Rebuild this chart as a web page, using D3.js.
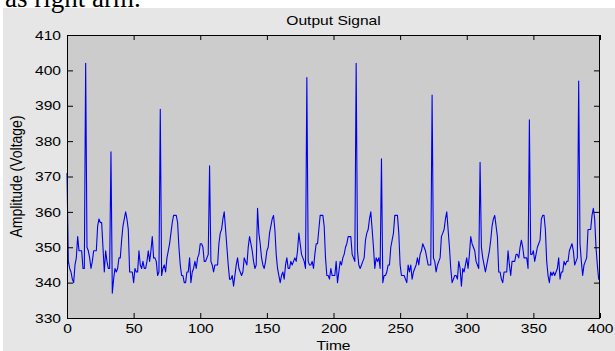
<!DOCTYPE html>
<html>
<head>
<meta charset="utf-8">
<script src="https://cdn.jsdelivr.net/npm/d3@7"></script>
<style>
  html, body { margin: 0; padding: 0; background: #fff; overflow: hidden; }
  svg { display: block; }
</style>
</head>
<body>
<div id="chart"></div>
<script>
(function () {
  'use strict';

  // Output signal samples, t = 0..400 (one value per time step)
  var amplitude = [
    371,346,344,343,341,340,345,347,353,349,349,349,344,344,402,350,349,347,344,346,
    349,349,349,356,358,357,357,350,343,349,346,344,344,377,337,341,344,343,344,347,
    347,352,356,358,360,358,355,343,343,343,340,344,343,343,349,345,344,346,344,344,
    346,349,346,349,353,347,347,346,342,343,389,342,344,345,343,347,349,351,354,357,
    359,359,359,357,350,345,342,342,340,340,343,343,347,340,343,344,346,344,347,348,
    351,351,350,346,346,347,348,373,346,345,343,345,345,345,351,354,355,358,360,355,
    350,345,341,341,342,339,342,345,347,344,343,342,343,347,346,345,350,353,351,349,
    346,344,345,361,354,351,347,345,344,346,349,350,354,356,358,359,355,348,344,342,
    340,342,343,341,345,347,344,344,346,345,346,347,346,349,354,351,348,347,346,344,
    398,346,345,345,346,344,348,351,351,355,359,359,359,356,347,342,342,341,344,342,
    342,342,346,340,343,346,345,347,348,350,351,353,353,353,348,347,346,402,349,345,
    344,345,346,347,352,354,355,358,360,355,350,344,347,346,347,344,375,340,342,342,
    343,345,345,350,352,354,359,359,359,354,345,342,342,342,341,340,345,343,345,341,
    343,344,345,347,345,348,349,351,350,349,347,345,345,345,393,347,346,343,345,346,
    347,353,354,355,358,360,355,350,344,340,341,342,342,341,346,344,339,344,343,345,
    347,344,348,353,351,350,349,346,345,344,374,350,347,345,343,345,347,349,352,356,
    358,359,356,353,343,343,341,340,343,343,343,349,345,342,346,346,346,348,348,347,
    350,352,350,347,347,347,344,386,348,348,349,346,348,350,351,352,358,359,359,355,
    346,342,340,343,342,343,342,343,344,347,341,343,343,346,345,346,346,349,350,351,
    349,345,346,347,397,351,346,342,345,346,347,355,355,355,359,361,358,350,345,341,
    341
  ];

  var xTicks = [0, 50, 100, 150, 200, 250, 300, 350, 400];
  var yTicks = [330, 340, 350, 360, 370, 380, 390, 400, 410];

  var titleText = 'Output Signal';
  var xLabelText = 'Time';
  var yLabelText = 'Amplitude (Voltage)';
  var captionText = 'as right arm.';

  var width = 615;
  var height = 351;
  var margin = { top: 35, right: 15, bottom: 33, left: 67 };
  var plotWidth = width - margin.left - margin.right;
  var plotHeight = height - margin.top - margin.bottom;

  // the source picture is stretched sideways, so text is too
  var stretch = 1.2;
  var font = 'Liberation Sans, Arial, sans-serif';

  var svg = d3.select('#chart')
    .append('svg')
    .attr('width', width)
    .attr('height', height);

  // figure background
  svg.append('rect')
    .attr('x', 3)
    .attr('y', 8)
    .attr('width', width - 3)
    .attr('height', height - 8)
    .attr('fill', '#e6e6e6');

  // bit of the page text above the figure, cut off at the top as in the source
  svg.append('text')
    .attr('x', 5)
    .attr('y', 6.5)
    .attr('font-family', 'Liberation Serif, Times New Roman, serif')
    .attr('font-size', 27)
    .attr('fill', '#000')
    .text(captionText);

  var g = svg.append('g')
    .attr('transform', 'translate(' + margin.left + ',' + margin.top + ')');

  var x = d3.scaleLinear().domain([0, 400]).range([0, plotWidth]);
  var y = d3.scaleLinear().domain([330, 410]).range([plotHeight, 0]);

  g.append('rect')
    .attr('width', plotWidth)
    .attr('height', plotHeight)
    .attr('fill', '#cccccc');

  g.append('defs')
    .append('clipPath')
    .attr('id', 'plot-clip')
    .append('rect')
    .attr('x', -1)
    .attr('y', -1)
    .attr('width', plotWidth + 2)
    .attr('height', plotHeight + 2);

  var line = d3.line()
    .x(function (d, i) { return x(i); })
    .y(function (d) { return y(d); });

  g.append('path')
    .datum(amplitude)
    .attr('clip-path', 'url(#plot-clip)')
    .attr('d', line)
    .attr('fill', 'none')
    .attr('stroke', '#0000f0')
    .attr('stroke-width', 1.1)
    .attr('stroke-linejoin', 'round');

  /**
   * Draw one axis with inward ticks; labels optional.
   */
  function drawAxis(axis, transform, labels) {
    var a = g.append('g')
      .attr('transform', transform)
      .call(axis);
    a.select('.domain').remove();
    a.selectAll('.tick line').attr('stroke', '#000');
    if (!labels) {
      a.selectAll('.tick text').remove();
    } else {
      a.selectAll('.tick text')
        .attr('font-family', font)
        .attr('font-size', 13)
        .attr('fill', '#000')
        .attr('transform', 'scale(' + stretch + ',1)');
    }
    return a;
  }

  drawAxis(d3.axisBottom(x).tickValues(xTicks).tickSizeInner(-5).tickSizeOuter(0).tickPadding(6),
    'translate(0,' + plotHeight + ')', true);
  drawAxis(d3.axisTop(x).tickValues(xTicks).tickSizeInner(-5).tickSizeOuter(0),
    'translate(0,0)', false);
  drawAxis(d3.axisLeft(y).tickValues(yTicks).tickSizeInner(-6).tickSizeOuter(0).tickPadding(5),
    'translate(0,0)', true);
  drawAxis(d3.axisRight(y).tickValues(yTicks).tickSizeInner(-6).tickSizeOuter(0),
    'translate(' + plotWidth + ',0)', false);

  // box
  g.append('rect')
    .attr('x', 0.5)
    .attr('y', 0.5)
    .attr('width', plotWidth - 1)
    .attr('height', plotHeight)
    .attr('fill', 'none')
    .attr('stroke', '#000')
    .attr('stroke-width', 1)
    .attr('shape-rendering', 'crispEdges');

  // title and axis labels
  svg.append('text')
    .attr('transform', 'translate(' + (margin.left + plotWidth / 2) + ',25) scale(' + stretch + ',1)')
    .attr('text-anchor', 'middle')
    .attr('font-family', font)
    .attr('font-size', 13)
    .text(titleText);

  svg.append('text')
    .attr('transform', 'translate(' + (margin.left + plotWidth / 2) + ',349.5) scale(' + stretch + ',1)')
    .attr('text-anchor', 'middle')
    .attr('font-family', font)
    .attr('font-size', 13)
    .text(xLabelText);

  svg.append('text')
    .attr('transform', 'translate(22,' + (margin.top + plotHeight / 2) + ') scale(' + stretch + ',1) rotate(-90)')
    .attr('text-anchor', 'middle')
    .attr('font-family', font)
    .attr('font-size', 14)
    .text(yLabelText);
})();
</script>
</body>
</html>
